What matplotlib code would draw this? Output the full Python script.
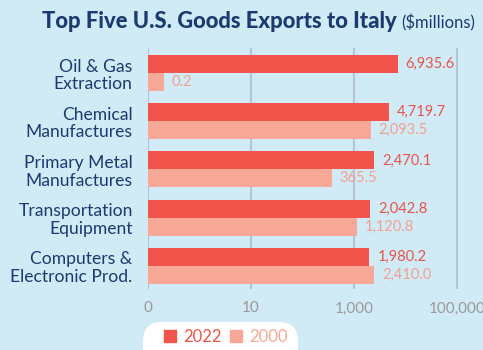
import matplotlib
matplotlib.use("Agg")
import matplotlib.pyplot as plt
from matplotlib.patches import FancyBboxPatch, Patch

categories = ["Oil & Gas\nExtraction", "Chemical\nManufactures", "Primary Metal\nManufactures",
              "Transportation\nEquipment", "Computers &\nElectronic Prod."]
exports_2022 = [6935.6, 4719.7, 2470.1, 2042.8, 1980.2]
exports_2000 = [0.2, 2093.5, 365.5, 1120.8, 2410.0]
tick_values = [0.1, 10, 1000, 100000]
tick_labels = ["0", "10", "1,000", "100,000"]

bg = "#d0eaf6"
red = "#f0544a"
pink = "#f7a896"
navy = "#1b3a70"
grid_col = "#b7c2d6"

plt.rcParams["font.family"] = ["Lato", "DejaVu Sans"]

W, H = 483, 350
fig = plt.figure(figsize=(W / 100, H / 100), dpi=100, facecolor=bg)
ax = fig.add_axes([148 / W, 1 - 289 / H, 335 / W, 241 / H])
ax.set_facecolor(bg)

base = 0.1
h = 0.373
ys = list(range(len(categories)))
y22 = [y - h / 2 for y in ys]
y00 = [y + h / 2 for y in ys]
ax.barh(y22, [v - base for v in exports_2022], left=base, height=h, color=red, zorder=3)
ax.barh(y00, [v - base for v in exports_2000], left=base, height=h, color=pink, zorder=3)

for y, v in zip(y22, exports_2022):
    ax.annotate(f"{v:,.1f}", (v, y), xytext=(8, 0), textcoords="offset pixels",
                va="center", ha="left", color="#e8554c", fontsize=10.5)
for y, v in zip(y00, exports_2000):
    ax.annotate(f"{v:,.1f}", (v, y), xytext=(8, 0), textcoords="offset pixels",
                va="center", ha="left", color="#f4a08f", fontsize=10.5)

ax.set_xscale("log")
ax.set_xlim(base, 10 ** 5.5)
ax.set_ylim(4.48, -0.52)
ax.set_xticks(tick_values)
ax.set_xticklabels(tick_labels)
ax.minorticks_off()
ax.tick_params(axis="x", length=0, pad=9, labelsize=11, labelcolor="#9a9a9a")
ax.set_yticks(ys)
ax.set_yticklabels(categories, fontsize=12.6, color=navy, linespacing=1.12)
ax.tick_params(axis="y", length=0, pad=11)
for t in ax.get_yticklabels():
    t.set_horizontalalignment("right")

for s in ax.spines.values():
    s.set_visible(False)
for v in tick_values:
    ax.axvline(v, color=grid_col, lw=1.5, zorder=1)

# title: bold part followed by the unit in regular weight
t1 = fig.text(42 / W, 1 - 28 / H, "Top Five U.S. Goods Exports to Italy", fontsize=15.8,
              fontweight="black", color=navy, ha="left", va="baseline")
fig.canvas.draw()
bb = t1.get_window_extent()
fig.text((bb.x1 + 4) / W, 1 - 28 / H, "($millions)", fontsize=12, color=navy,
         ha="left", va="baseline")

# legend on a white rounded pill
pill = FancyBboxPatch((143 / W, -0.05), 155 / W, (1 - 322 / H) + 0.05,
                      boxstyle="round,pad=0,rounding_size=0.04", transform=fig.transFigure,
                      facecolor="white", edgecolor="none", mutation_aspect=W / H)
fig.patches.append(pill)
handles = [Patch(color=red, label="2022"), Patch(color=pink, label="2000")]
leg = fig.legend(handles=handles, loc="center left", bbox_to_anchor=(164 / W, 1 - 337 / H),
                 ncol=2, frameon=False, fontsize=12, handlelength=0.7, handleheight=0.7,
                 handletextpad=0.45, columnspacing=0.5, borderpad=0, borderaxespad=0)
leg.get_texts()[0].set_color(red)
leg.get_texts()[1].set_color(pink)

fig.savefig("out.png", dpi=100, facecolor=bg)
